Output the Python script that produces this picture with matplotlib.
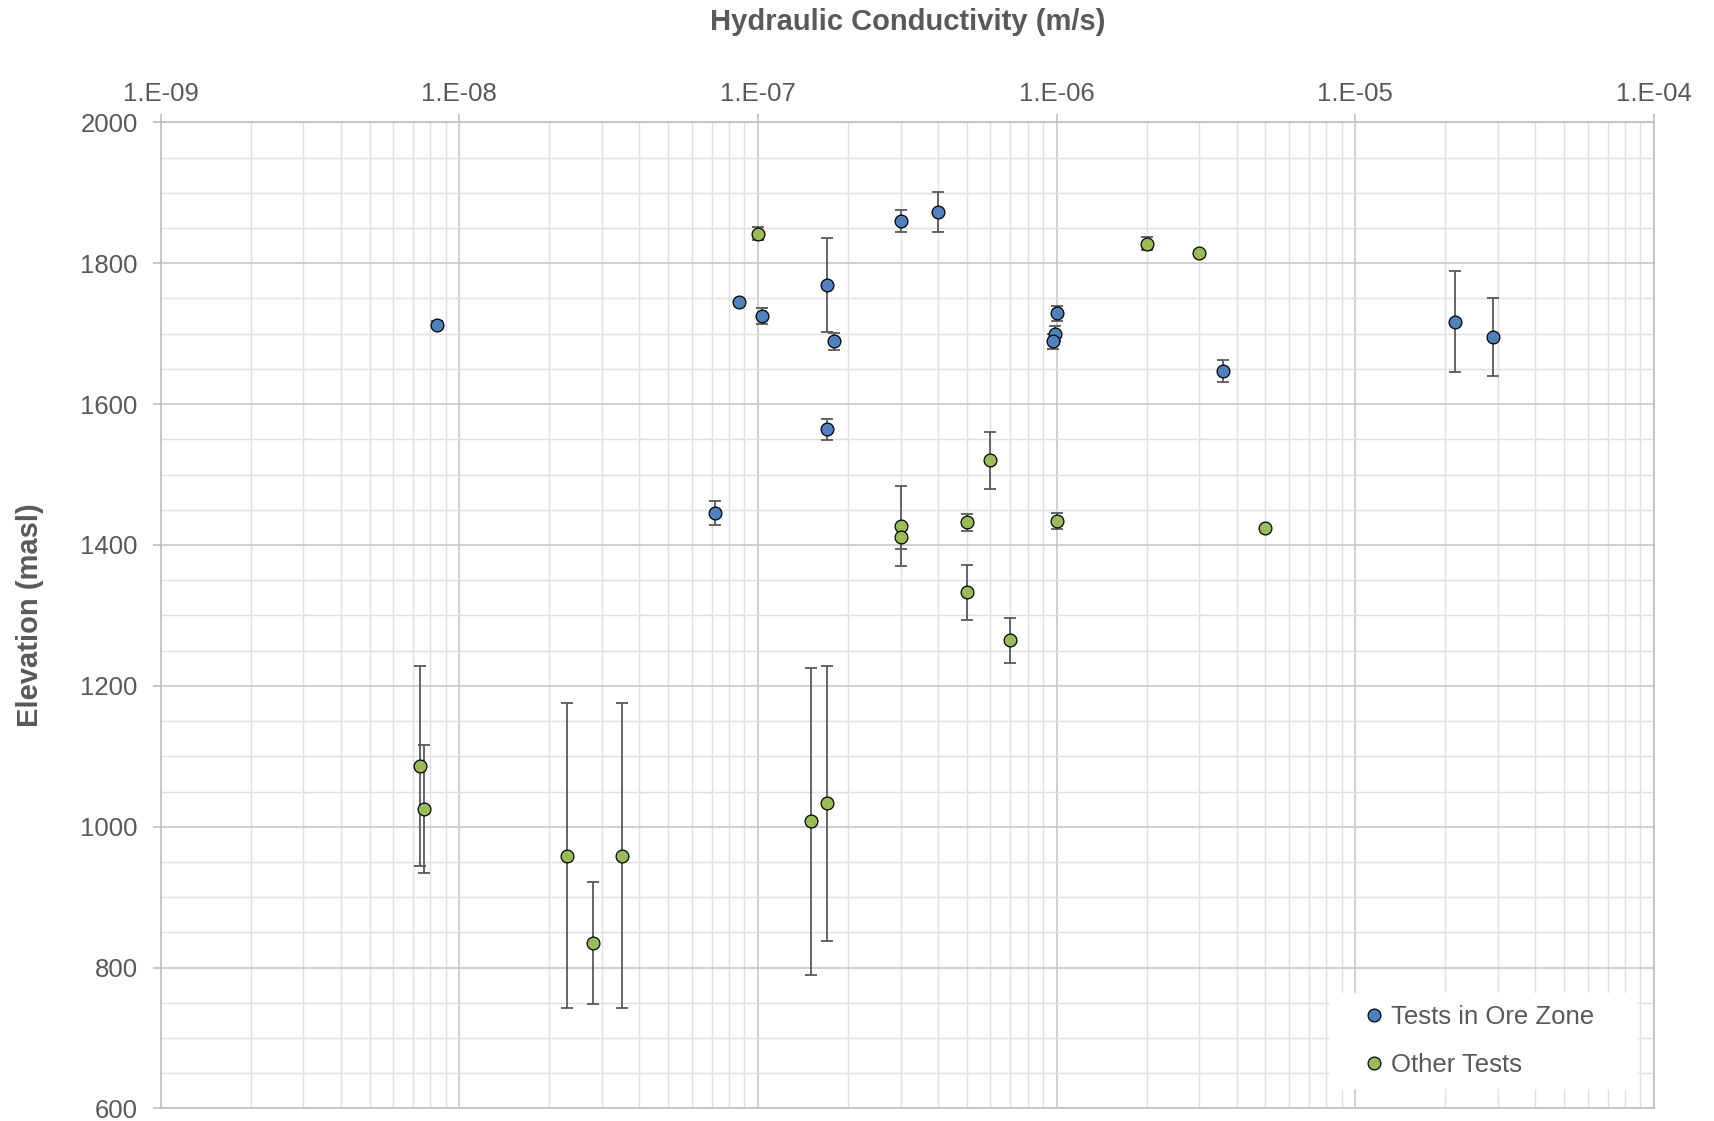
import numpy as np
import matplotlib
matplotlib.use('Agg')
from matplotlib import pyplot as plt
from matplotlib.ticker import FixedLocator, LogLocator, MultipleLocator, FuncFormatter, NullFormatter

plt.rcParams['font.family'] = ['Liberation Sans', 'DejaVu Sans']

# tests inside the ore zone
ore_k = [8.4e-9, 8.6e-8, 1.03e-7, 1.7e-7, 1.8e-7, 1.7e-7, 7.2e-8, 3.0e-7,
         4.0e-7, 1.0e-6, 0.99e-6, 0.97e-6, 3.6e-6, 2.15e-5, 2.9e-5]
ore_elev = [1713, 1745, 1725, 1769, 1689, 1564, 1446, 1860,
            1873, 1729, 1700, 1689, 1647, 1717, 1695]
ore_err = [5, 0, 11, 67, 12, 15, 17, 15,
           28, 11, 11, 11, 16, 72, 55]

# other tests
other_k = [1.0e-7, 2.0e-6, 3.0e-6, 6.0e-7, 3.0e-7, 3.0e-7, 5.0e-7, 1.0e-6, 5.0e-6,
           5.0e-7, 7.0e-7, 7.4e-9, 7.6e-9, 2.3e-8, 2.8e-8, 3.5e-8, 1.5e-7, 1.7e-7]
other_elev = [1842, 1828, 1815, 1520, 1427, 1411, 1432, 1434, 1424,
              1333, 1265, 1086, 1025, 959, 835, 959, 1008, 1033]
other_err = [9, 9, 0, 40, 57, 17, 12, 11, 0,
             39, 32, 142, 91, 217, 86, 217, 218, 195]

decades = [1e-9, 1e-8, 1e-7, 1e-6, 1e-5, 1e-4]

txt = '#595959'
blue = '#4F81BD'
green = '#9BBB59'

fig = plt.figure(figsize=(17.14, 11.21), dpi=100)
ax = fig.add_axes([0.0938, 0.0112, 0.8712, 0.8796])

for k, e, err in [(ore_k, ore_elev, ore_err), (other_k, other_elev, other_err)]:
    ax.errorbar(k, e, yerr=err, fmt='none', ecolor='#595959', elinewidth=1.3,
                capsize=4, capthick=1.3, zorder=3)

ax.plot(ore_k, ore_elev, 'o', ms=9.2, mfc=blue, mec='black', mew=0.9,
        label='Tests in Ore Zone', zorder=4)
ax.plot(other_k, other_elev, 'o', ms=9.2, mfc=green, mec='black', mew=0.9,
        label='Other Tests', zorder=4)

ax.set_xscale('log')
ax.set_xlim(1e-9, 1e-4)
ax.set_ylim(600, 2000)

ax.xaxis.tick_top()
ax.xaxis.set_label_position('top')
ax.xaxis.set_major_locator(FixedLocator(decades))
ax.xaxis.set_minor_locator(LogLocator(base=10, subs=np.arange(2, 10), numticks=20))
ax.xaxis.set_minor_formatter(NullFormatter())
ax.xaxis.set_major_formatter(FuncFormatter(lambda v, p: '1.E%03d' % int(round(np.log10(v)))))
ax.yaxis.set_major_locator(MultipleLocator(200))
ax.yaxis.set_minor_locator(MultipleLocator(50))

ax.grid(which='major', color='#C8C8C8', lw=1.2)
ax.grid(which='minor', color='#E0E0E0', lw=1.0)
ax.set_axisbelow(True)

for s in ax.spines.values():
    s.set_color('#BFBFBF')
    s.set_linewidth(1.2)

ax.tick_params(axis='both', which='major', labelsize=18.5, colors='#BFBFBF',
               labelcolor=txt, length=5.5, width=1.2)
ax.tick_params(axis='x', which='major', pad=6.5)
ax.tick_params(axis='y', which='major', pad=11)
ax.tick_params(which='minor', length=0)

ax.set_xlabel('Hydraulic Conductivity (m/s)', fontsize=21, fontweight='bold',
              color=txt, labelpad=37)
ax.set_ylabel('Elevation (masl)', fontsize=21, fontweight='bold', color=txt, labelpad=26)

# white legend box in the lower right corner, stretched to the reference width
leg = ax.legend(loc='lower left', bbox_to_anchor=(0.7831, 0.0204, 0.2049, 0.0976),
                mode='expand', borderaxespad=0, fontsize=18.5, frameon=True,
                fancybox=False, edgecolor='white', framealpha=1, markerscale=1.0,
                handlelength=2.5, handletextpad=-0.6, labelspacing=0.91, borderpad=0.46)
for t in leg.get_texts():
    t.set_color(txt)

fig.savefig('out.png', dpi=100)
